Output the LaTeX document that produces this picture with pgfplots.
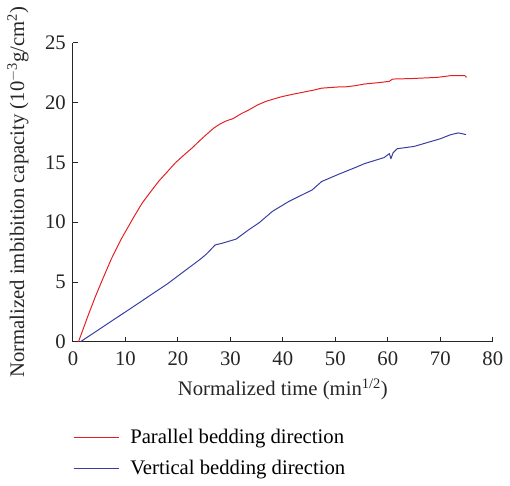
\documentclass[border=0pt]{standalone}
\usepackage{fontspec}
\setmainfont{Liberation Serif}
\usepackage{pgfplots}
\pgfplotsset{compat=1.18}
\definecolor{cred}{RGB}{229,31,33}
\definecolor{cblue}{RGB}{55,60,165}
\begin{document}
\fontsize{21}{24}\selectfont
\begin{tikzpicture}
\begin{axis}[
  at={(0,0)}, anchor=south west,
  scale only axis,
  width=426pt, height=303.6pt,
  xmin=0, xmax=80, ymin=0, ymax=25,
  xtick={0,10,...,80}, ytick={0,5,...,25},
  axis x line=bottom, axis y line=left,
  axis line style={-, line width=0.9pt, black!85},
  tick align=inside,
  major tick length=5pt,
  tick style={line width=0.9pt, black!85},
  /pgf/number format/assume math mode=true,
  ticklabel style={font=\fontsize{21}{24}\selectfont, text=black!85},
  xticklabel style={yshift=-3pt},
  label style={font=\fontsize{21}{24}\selectfont, text=black!85},
  xlabel={Normalized time (min\textsuperscript{1/2})},
  ylabel={Normalized imbibition capacity (10\textsuperscript{$-$3}g/cm\textsuperscript{2})},
  xlabel style={at={(axis description cs:0.5,-0.158)}, anchor=center},
  ylabel style={at={(axis description cs:-0.131,0.5)}, anchor=center},
  legend style={at={(axis description cs:0,0)}, anchor=north west, xshift=-3pt, yshift=-84pt,
    draw=none, fill=none, font=\fontsize{21}{24}\selectfont,
    row sep=10pt, legend cell align=left,
    /tikz/every odd column/.append style={column sep=9pt}},
  legend image code/.code={\draw[#1, draw=., line width=1pt] (0pt,0pt) -- (46pt,0pt);},
]
\addplot[color=cred, line width=1pt, line join=round] coordinates {
(1.05,0) (2.95,2.27) (4.2,3.7) (5.45,5.02) (7.33,6.94) (9.2,8.59) (11.7,10.51) (13.2,11.6) (14.85,12.57)
(16.4,13.45) (18.0,14.22) (19.5,14.95) (21.1,15.59) (22.7,16.2) (24.25,16.85) (25.5,17.35) (26.8,17.85)
(28.0,18.2) (29.3,18.48) (30.5,18.65) (32.0,19.05) (33.6,19.4) (35.2,19.8) (36.8,20.1) (38.3,20.3) (39.9,20.5)
(42.0,20.7) (44.3,20.9) (46.0,21.05) (47.4,21.2) (50.6,21.3) (51.8,21.3) (53.7,21.4) (55.6,21.55) (58,21.65) (60.3,21.77)
(60.9,21.96) (64.4,22.0) (69.4,22.1) (71.9,22.24) (74.7,22.24) (75.0,22.1)
};
\addlegendentry{Parallel bedding direction}
\addplot[color=cblue, line width=1pt, line join=round] coordinates {
(1.4,0) (5.45,1.18) (11.7,3.0) (18.0,4.85) (24.25,6.9) (25.5,7.36) (27.1,8.1) (28.6,8.26)
(31.1,8.59) (33.6,9.4) (35.5,9.96) (38.0,10.9) (41.2,11.75) (45.6,12.7) (47.4,13.4)
(50.6,14.0) (53.7,14.55) (55.6,14.9) (59.3,15.4) (60.3,15.73) (60.6,15.3) (61.0,15.8) (61.8,16.14)
(65,16.33) (70,16.97) (71.9,17.3) (73.4,17.46) (74.1,17.4) (74.9,17.32)
};
\addlegendentry{Vertical bedding direction}
\end{axis}
\path (-74pt,-146pt) rectangle (436pt,344.6pt);
\end{tikzpicture}
\end{document}
